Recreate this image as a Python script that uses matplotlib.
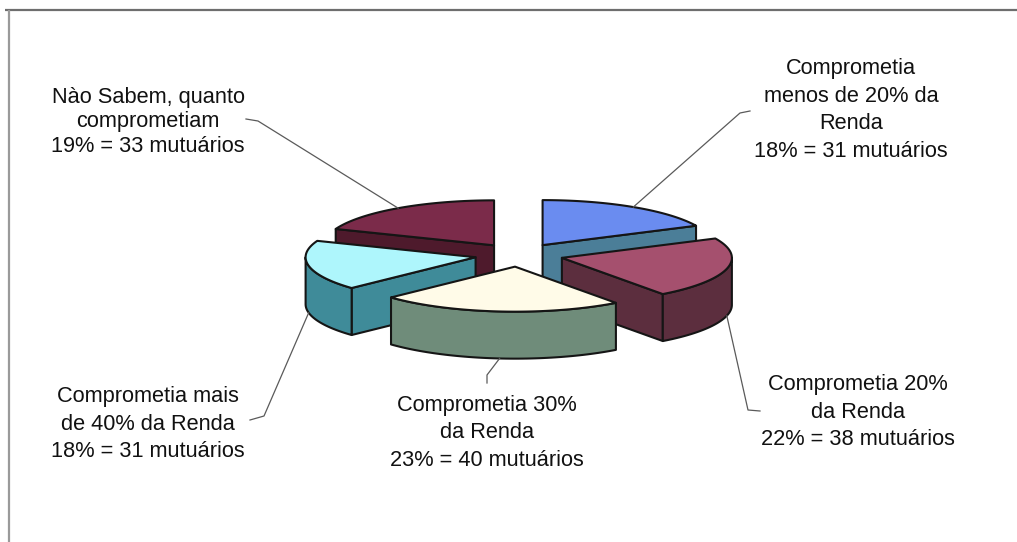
import matplotlib.pyplot as plt
import numpy as np
from matplotlib.patches import Polygon

plt.rcParams["font.family"] = ["Liberation Sans", "DejaVu Sans"]

# slices, clockwise from 12 o'clock
categorias = [
    "Comprometia\nmenos de 20% da\nRenda",
    "Comprometia 20%\nda Renda",
    "Comprometia 30%\nda Renda",
    "Comprometia mais\nde 40% da Renda",
    "Nào Sabem, quanto\ncomprometiam",
]
mutuarios = [31, 38, 40, 31, 33]

top_colors = ["#6a8cf0", "#a5506e", "#fffbe8", "#aef6fc", "#7b2b4a"]
side_colors = ["#4b7e98", "#5c2e3e", "#6f8c7a", "#3f8b99", "#4e1a2c"]

# label centres, line spacing and the bend of each leader line (pixel layout)
label_pos = [(851, 110), (858, 412), (487, 433), (148, 424), (148, 122)]
label_spacing = [1.4, 1.4, 1.4, 1.4, 1.22]
leader_bends = [
    [(740, 113), (750, 111)],
    [(748, 410), (760, 411)],
    [(487, 375), (487, 383)],
    [(264, 416), (250, 420)],
    [(258, 121), (246, 119)],
]

W, H = 1017, 542
cx, cy = 519, 255
rx, ry = 170, 45
depth = 47
explode = 0.26

fig = plt.figure(figsize=(W / 100, H / 100), dpi=100)
ax = fig.add_axes([0, 0, 1, 1])
ax.set_xlim(0, W)
ax.set_ylim(H, 0)
ax.axis("off")

# chart frame
ax.plot([5, W], [10, 10], color="#6e6e6e", lw=1.6, solid_capstyle="butt")
ax.plot([9, 9], [10, H], color="#9a9a9a", lw=1.6, solid_capstyle="butt")

total = sum(mutuarios)
fracs = np.array(mutuarios) / total
ends = np.cumsum(fracs) * 360
starts = ends - fracs * 360


def rim(apex, t, dz=0.0):
    r = np.radians(t)
    return (apex[0] + rx * np.sin(r), apex[1] - ry * np.cos(r) + dz)


slices = []
for i in range(len(mutuarios)):
    a, b = starts[i], ends[i]
    mid = np.radians((a + b) / 2)
    apex = (cx + explode * rx * np.sin(mid), cy - explode * ry * np.cos(mid))
    slices.append((apex[1], i, a, b, apex))

edge = dict(edgecolor="#151515", linewidth=1.5, joinstyle="round")
anchors = {}

# back slices first so the front ones cover them
for _, i, a, b, apex in sorted(slices):
    top_c, side_c = top_colors[i], side_colors[i]
    # radial walls that face the viewer
    for phi, visible in ((a, np.sin(np.radians(a)) < -1e-9),
                         (b, np.sin(np.radians(b)) > 1e-9)):
        if visible:
            p = rim(apex, phi)
            wall = [apex, p, (p[0], p[1] + depth), (apex[0], apex[1] + depth)]
            ax.add_patch(Polygon(wall, closed=True, facecolor=side_c, **edge))
    # outer curved wall, front half only
    t1, t2 = max(a, 90), min(b, 270)
    if t2 > t1:
        ts = np.linspace(t1, t2, 60)
        upper = [rim(apex, t) for t in ts]
        lower = [rim(apex, t, depth) for t in ts[::-1]]
        ax.add_patch(Polygon(upper + lower, closed=True, facecolor=side_c, **edge))
    # top face
    ts = np.linspace(a, b, 80)
    face = [apex] + [rim(apex, t) for t in ts]
    ax.add_patch(Polygon(face, closed=True, facecolor=top_c, **edge))

    mid = (a + b) / 2
    front = 90 < mid < 270
    anchors[i] = rim(apex, mid, depth if front else 0)

for i in range(len(mutuarios)):
    pct = round(100 * mutuarios[i] / total)
    text = f"{categorias[i]}\n{pct}% = {mutuarios[i]} mutuários"
    x, y = label_pos[i]
    ax.text(x, y, text, ha="center", va="center", fontsize=15.7,
            linespacing=label_spacing[i], color="#111111")
    path = [anchors[i]] + leader_bends[i]
    ax.plot([p[0] for p in path], [p[1] for p in path],
            color="#5a5a5a", lw=0.9)

fig.savefig("out.png", dpi=100)
